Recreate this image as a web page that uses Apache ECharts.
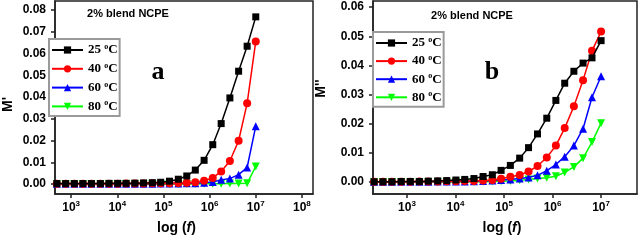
<!DOCTYPE html>
<html>
<head>
<meta charset="utf-8">
<script src="https://cdn.jsdelivr.net/npm/echarts@6/dist/echarts.min.js"></script>
<style>html,body{margin:0;padding:0;background:#fff}#c{width:640px;height:240px}</style>
</head>
<body>
<div id="c"></div>
<script>
// Frequencies (Hz), ascending
const freq = [210, 320, 490, 760, 1170, 1800, 2750, 4300, 6600, 10200, 15500, 24000, 37000, 57500, 87000, 135000, 210000, 320000, 490000, 760000, 1170000, 1780000, 2750000, 4250000, 6500000, 10000000];
const seriesNames = ['25 °C', '40 °C', '60 °C', '80 °C'];
// M' (panel a)
const mReal25 = [0.0002,0.0002,0.0002,0.0002,0.0002,0.0002,0.0002,0.0002,0.0003,0.0003,0.0003,0.0004,0.0005,0.0006,0.0008,0.0013,0.0022,0.0037,0.0064,0.0109,0.0181,0.0278,0.0396,0.0519,0.0634,0.0769];
const mReal40 = [0.0001,0.0001,0.0001,0.0001,0.0001,0.0001,0.0001,0.0001,0.0001,0.0001,0.0002,0.0002,0.0002,0.0003,0.0003,0.0004,0.0005,0.0006,0.0008,0.0015,0.0028,0.0058,0.0106,0.0199,0.0371,0.0656];
const mReal60 = [0.0001,0.0001,0.0001,0.0001,0.0001,0.0001,0.0001,0.0001,0.0001,0.0001,0.0001,0.0001,0.0001,0.0001,0.0002,0.0002,0.0002,0.0003,0.0003,0.0006,0.0009,0.0019,0.0025,0.0043,0.0076,0.0266];
const mReal80 = [0.0000,0.0000,0.0000,0.0000,0.0000,0.0000,0.0000,0.0000,0.0000,0.0000,0.0000,0.0000,0.0000,0.0000,0.0000,0.0000,0.0000,0.0000,0.0000,0.0001,0.0001,0.0001,0.0002,0.0002,0.0003,0.0081];
// M'' (panel b)
const mImag25 = [0.0001,0.0001,0.0001,0.0002,0.0002,0.0002,0.0003,0.0004,0.0005,0.0007,0.0009,0.0012,0.0019,0.0025,0.0040,0.0057,0.0082,0.0118,0.0165,0.0219,0.0280,0.0339,0.0380,0.0408,0.0426,0.0485];
const mImag40 = [0.0001,0.0001,0.0001,0.0001,0.0001,0.0002,0.0002,0.0002,0.0003,0.0003,0.0004,0.0004,0.0005,0.0007,0.0011,0.0018,0.0024,0.0036,0.0055,0.0084,0.0125,0.0185,0.0260,0.0349,0.0450,0.0516];
const mImag60 = [0.0001,0.0001,0.0001,0.0001,0.0001,0.0001,0.0001,0.0002,0.0002,0.0002,0.0002,0.0003,0.0004,0.0005,0.0007,0.0009,0.0012,0.0016,0.0023,0.0039,0.0060,0.0087,0.0125,0.0183,0.0291,0.0363];
const mImag80 = [0.0000,0.0000,0.0000,0.0000,0.0000,0.0000,0.0000,0.0000,0.0000,0.0001,0.0001,0.0001,0.0001,0.0002,0.0003,0.0004,0.0006,0.0009,0.0012,0.0015,0.0020,0.0033,0.0052,0.0082,0.0137,0.0202];
const xTicks = [1e3, 1e4, 1e5, 1e6, 1e7, 1e8];
const yTicksA = [0, 0.01, 0.02, 0.03, 0.04, 0.05, 0.06, 0.07, 0.08];
const yTicksB = [0, 0.01, 0.02, 0.03, 0.04, 0.05, 0.06];
const panelTitle = '2% blend NCPE';

const colors = ['#000000', '#ff0000', '#0000ff', '#00ff00'];
const symbols = ['rect', 'circle', 'triangle', 'triangle'];
const rotations = [0, 0, 0, 180];
const sizes = [7, 8, 8, 8];
const frame = '#222';
const sansB = {fontFamily: 'Liberation Sans', fontWeight: 'bold', color: '#000'};

function mkX(idx, min, max, padR) {
  return {
    type: 'log', gridIndex: idx, min: min, max: max, logBase: 10,
    axisLine: {show: true, onZero: false, lineStyle: {color: frame, width: 1.5}},
    axisTick: {show: true, customValues: xTicks, length: 4, lineStyle: {color: frame, width: 1.5}},
    splitLine: {show: false},
    axisLabel: {
      customValues: xTicks, margin: 6,
      formatter: v => '{b|10}{s|' + Math.round(Math.log10(v)) + '}',
      rich: {b: Object.assign({fontSize: 12}, sansB), s: Object.assign({fontSize: 8, padding: [0, 0, 7, 0]}, sansB)}
    },
    name: 'log ({i|f})', nameLocation: 'middle', nameGap: 27,
    nameTextStyle: Object.assign({fontSize: 14, padding: [0, padR, 0, 0], rich: {i: Object.assign({fontSize: 14, fontStyle: 'italic'}, sansB)}}, sansB)
  };
}
function mkY(idx, min, max, ticks, name, gap, pad) {
  return {
    type: 'value', gridIndex: idx, min: min, max: max,
    axisLine: {show: true, onZero: false, lineStyle: {color: frame, width: 1.5}},
    axisTick: {show: true, customValues: ticks, length: 4, lineStyle: {color: frame, width: 1.5}},
    splitLine: {show: false},
    axisLabel: Object.assign({customValues: ticks, margin: 9, fontSize: 12, formatter: v => v.toFixed(2)}, sansB),
    name: name, nameLocation: 'middle', nameGap: gap, nameRotate: 90,
    nameTextStyle: Object.assign({fontSize: 14, padding: pad}, sansB)
  };
}
function mkSeries(idx, arrs) {
  return arrs.map((arr, i) => ({
    name: seriesNames[i], type: 'line', xAxisIndex: idx, yAxisIndex: idx,
    data: freq.map((f, k) => [f, arr[k]]),
    symbol: symbols[i], symbolRotate: rotations[i], symbolSize: sizes[i],
    showAllSymbol: true, clip: true,
    lineStyle: {color: colors[i], width: 1.5},
    itemStyle: {color: colors[i]},
    z: 10 - i
  }));
}
function mkLegend(left, top, gap) {
  return {
    left: left, top: top, orient: 'vertical', data: seriesNames,
    itemWidth: 31, itemHeight: 9, itemGap: gap,
    backgroundColor: '#fff', borderColor: '#9a9a9a', borderWidth: 2, padding: [4, 2, 3, 2],
    symbolRotate: 'inherit',
    formatter: n => '{t|' + n.replace(' °C', ' ') + '}{s|o}{t|C}',
    textStyle: {rich: {
      t: {fontFamily: 'Liberation Serif', fontWeight: 'bold', fontSize: 13, color: '#000'},
      s: {fontFamily: 'Liberation Serif', fontWeight: 'bold', fontSize: 8, color: '#000', padding: [0, 0, 6, 0]}
    }}
  };
}
function label(txt, x, y, font) {
  return {type: 'text', x: x, y: y, z: 100, style: {text: txt, font: font, fill: '#000', align: 'center', verticalAlign: 'middle'}};
}

const chart = echarts.init(document.getElementById('c'), null, {renderer: 'canvas'});
chart.setOption({
  animation: false,
  backgroundColor: '#fff',
  grid: [
    {left: 48, top: 1, width: 265, height: 198, show: true, borderColor: frame, borderWidth: 1.5, backgroundColor: '#fff'},
    {left: 373, top: 1, width: 264, height: 200, show: true, borderColor: frame, borderWidth: 1.5, backgroundColor: '#fff'}
  ],
  xAxis: [mkX(0, Math.pow(10, 2.65), Math.pow(10, 8.24), 15), mkX(1, Math.pow(10, 2.30), Math.pow(10, 7.74), 6)],
  yAxis: [mkY(0, -0.0046, 0.0842, yTicksA, "M'", 40, [0, 14, 0, 0]), mkY(1, -0.0041, 0.0621, yTicksB, "M''", 45, [0, 0, 0, 18])],
  legend: [mkLegend(49, 39, 5.3), mkLegend(373, 32, 4.6)],
  graphic: [
    label(panelTitle, 128, 14, 'bold 11px "Liberation Sans"'),
    label(panelTitle, 472, 16, 'bold 11px "Liberation Sans"'),
    label('a', 158, 72, 'bold 26px "Liberation Serif"'),
    label('b', 492, 72, 'bold 26px "Liberation Serif"')
  ],
  series: mkSeries(0, [mReal25, mReal40, mReal60, mReal80]).concat(mkSeries(1, [mImag25, mImag40, mImag60, mImag80]))
});
</script>
</body>
</html>
